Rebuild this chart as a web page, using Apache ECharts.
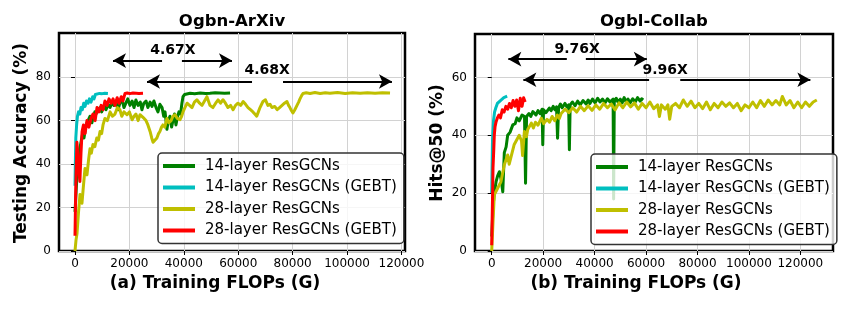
<!DOCTYPE html>
<html><head><meta charset="utf-8">
<script src="https://cdn.jsdelivr.net/npm/echarts@6/dist/echarts.min.js"></script>
<style>html,body{margin:0;padding:0;background:#fff}#c{width:847px;height:309px}</style>
</head><body><div id="c"></div><script>
// ---------- Data (x = Training FLOPs (G), y = metric) ----------
var seriesNames = ['14-layer ResGCNs', '14-layer ResGCNs (GEBT)', '28-layer ResGCNs', '28-layer ResGCNs (GEBT)'];
var seriesColors = ['#008000', '#00bfbf', '#bfbf00', '#ff0000'];

// (a) Ogbn-ArXiv, Testing Accuracy (%)
var arxivResGCN14 = [[0,18],[740,35],[1470,45],[2200,50],[2940,55],[3300,52],[4040,58],[4800,60],[5500,62],[6200,59],[6600,61],[7300,64],[7700,63],[8400,65],[9200,66],[9800,64],[10300,65.5],[10900,67],[11400,65],[12200,67.5],[12900,66],[13500,68],[14300,67],[15000,69],[15800,65],[16500,68],[17300,69.5],[18000,66],[18700,68],[19400,70],[20200,67],[21000,69],[21700,66],[22400,69.5],[23200,67],[24000,68.5],[24600,65],[25300,68],[26100,69],[26800,66],[27600,68.5],[28300,66.5],[29000,69],[29800,66],[30500,64],[31200,67.5],[32000,66],[32600,62],[33100,64],[33800,56],[34300,60],[34900,62],[35500,57],[36000,60],[36600,63],[37100,58],[37700,62],[38200,64],[38800,63],[39300,68],[39700,71],[40300,72],[40800,72.5],[42300,72.6],[44000,72.4],[46000,72.7],[48000,72.5],[49600,72.6],[51500,72.8],[53300,72.7],[55000,72.6],[57000,72.7]];
var arxivGEBT14 = [[0,30],[150,42],[300,52],[600,58],[900,62],[1300,64],[1800,63],[2200,66],[2700,65],[3200,68],[3700,66.5],[4200,69],[4800,68],[5300,70],[5900,68.5],[6500,71],[7000,70],[7500,72],[8200,72.3],[9000,72.5],[10000,72.4],[11000,72.6],[12100,72.5]];
var arxivResGCN28 = [[0,0],[370,5],[740,8],[1300,18],[1840,26],[2570,22],[3100,30],[3680,38],[4410,35],[5000,42],[5500,47],[6000,45],[6600,49],[7300,48],[8000,52],[8600,51],[9200,55],[9800,54],[10300,58],[11000,61],[11900,60],[12900,64],[13800,62],[14700,63],[15600,66],[16500,65],[17200,62],[18000,64],[19100,62.7],[20000,64],[21000,60.4],[21700,62],[22400,63],[23200,60],[23900,62.7],[24600,63.5],[25400,61],[26100,60],[26800,58],[27600,55],[28200,52],[28700,50],[29400,49.6],[30100,52],[30700,54],[31200,55],[31800,57],[32300,58],[33000,57],[33800,61],[34500,59],[35300,60],[36000,62],[36800,62.7],[37600,61],[38600,60.4],[39200,62],[39700,64],[40400,66],[41200,68],[42100,67],[43000,66],[43900,68.5],[44800,69.6],[45800,68],[46700,67],[47600,69],[48500,71],[49600,67],[50700,66],[51700,68],[52600,69.5],[53500,68],[54400,69.6],[55300,68],[56200,66],[57200,67],[58100,65],[59000,67],[59900,68],[60900,67],[61800,68.8],[62700,67.5],[63600,66],[64500,65],[65400,64],[66100,63],[66800,62],[67400,64],[68000,66],[68600,67.5],[69100,68.8],[70000,69.6],[70900,67],[71700,67.5],[72400,66],[73400,66.5],[74300,65],[75200,66],[76100,67],[77000,68],[77900,68.8],[78500,67],[79000,66],[79600,64.5],[80100,63.5],[80800,65],[81600,67],[82200,68.5],[82700,70],[83300,71.5],[83800,72.5],[85000,72.8],[86400,72.5],[88200,72.9],[90100,72.5],[92000,72.8],[93700,72.6],[96500,72.9],[99300,72.5],[102000,72.8],[104800,72.6],[107500,72.8],[110300,72.6],[113000,72.8],[115800,72.7]];
var arxivGEBT28 = [[0,7],[300,30],[700,50],[1000,45],[1300,38],[1800,32],[2200,45],[2600,55],[3100,58],[3700,54],[4400,60],[5100,57],[5900,61],[6600,63],[7400,60],[8100,66],[8800,64],[9600,67],[10300,65],[11000,69],[11800,67],[12500,70],[13300,68],[14000,70],[14700,67],[15500,70.5],[16200,68],[17000,71],[17600,69],[18400,72.5],[19200,72.7],[20200,72.4],[21300,72.7],[22500,72.6],[23500,72.5],[25000,72.6]];

// (b) Ogbl-Collab, Hits@50 (%)
var collabResGCN14 = [[0,5],[500,15],[1000,20],[1700,24],[2300,26],[3000,27.4],[3600,25],[4300,20.5],[4900,34],[5600,36],[6200,40],[7100,41],[8200,43.6],[9100,44],[9800,46],[10700,45],[11800,47],[12750,46.5],[13150,23.4],[13550,46.5],[14500,47.5],[15200,46.5],[16000,48.2],[17200,47],[18000,48.5],[18800,47.5],[19600,49],[19850,36.7],[20150,48.8],[21100,47.8],[22400,49.4],[23100,48.5],[23900,50],[24600,48.8],[25200,49.8],[25600,39],[26000,49.5],[26700,50.8],[27400,49.5],[28500,51],[29200,49.8],[29900,50.5],[30200,35],[30500,50.5],[31400,51.5],[32400,50.2],[33400,51.8],[34400,50.5],[35500,52],[36700,50.8],[37500,52.2],[38200,51],[39200,52.5],[40200,51.2],[41200,52.8],[42100,51.5],[43100,52.5],[44100,51.2],[45000,52.6],[46000,51.5],[47200,52.5],[47400,18],[47650,51.5],[48400,52.8],[49100,51.5],[50000,52.5],[50700,51.2],[51500,53],[52300,51.5],[53000,52.5],[53800,51.2],[54800,52.6],[55800,51.5],[56700,53],[57700,51.8],[58300,52.6],[58900,52.2]];
var collabGEBT14 = [[0,20],[300,38],[700,45],[1100,48],[1600,49.5],[2200,51],[2800,50.5],[3400,52],[4000,51.5],[4700,53],[5400,52.5],[6000,53.5]];
var collabResGCN28 = [[0,0],[500,10],[1000,19.4],[2300,21.7],[3600,24],[4900,29.8],[6200,33.2],[6800,30],[8700,36.7],[10700,40],[11600,38],[12000,33],[12700,41.3],[13500,39.5],[14000,42],[15400,44.2],[16200,42.5],[17000,44.5],[18000,43.5],[19300,45.9],[20200,44],[21500,45.5],[22500,44.5],[23500,46.5],[24500,45],[25500,47],[26300,45.8],[27000,47.5],[28500,49],[30000,47.8],[31500,49.5],[33000,48],[34500,50],[36000,48.5],[37500,50.2],[39000,48.6],[40500,50.5],[42000,49],[43500,51],[45000,49.5],[46500,50.8],[48000,48.8],[49500,51.2],[51000,49.5],[52500,51.5],[54000,49.8],[55500,51.2],[57000,49],[58500,51],[60000,49.5],[61500,51.5],[63000,49.2],[64500,50.5],[65200,46.5],[66000,50.5],[67500,49],[68500,50.5],[69200,45.5],[70000,50],[71500,51],[73000,49.5],[74500,52.2],[76000,50],[77500,51.8],[79000,49.5],[80500,51],[82000,49.2],[83500,51.5],[85000,48.8],[86500,51],[88000,49.5],[89500,51.5],[91000,50],[92500,51.2],[94000,49.5],[95500,51],[97000,48.5],[98500,50.5],[100000,49.5],[101500,51.5],[103000,49.5],[104500,52],[106000,50],[107500,52.2],[109000,50.5],[110500,52],[112000,50.5],[113000,53.4],[114500,50.5],[116000,52],[117500,49.5],[119000,51.5],[120500,49.5],[122000,51.5],[123500,50],[125000,51.5],[126400,52.2]];
var collabGEBT28 = [[0,2],[250,15],[500,28.7],[800,35],[1000,40],[1300,43],[1700,44.7],[2200,46],[2800,47],[3400,46],[4100,48.8],[4800,48],[5500,50],[6200,49],[6900,51],[7600,49.5],[8300,52],[9000,50],[9700,52.2],[10400,48.5],[11100,52.8],[11800,50],[12400,53],[13000,51.5]];

// Tick values
var arxivXTicks = [0, 20000, 40000, 60000, 80000, 100000, 120000];
var arxivYTicks = [0, 20, 40, 60, 80];
var collabXTicks = [0, 20000, 40000, 60000, 80000, 100000, 120000];
var collabYTicks = [0, 20, 40, 60];

// Speed-up annotations: [y, xStart, gapStart, gapEnd, xEnd], label [x, y, text]
var arxivArrows = [[87.6, 13970, 32000, 39300, 57700], [78, 26470, 65070, 76460, 116500]];
var arxivArrowLabels = [[36000, 92.2, '4.67X'], [70600, 83, '4.68X']];
var collabArrows = [[66.3, 6460, 29200, 36600, 60300], [59.2, 12300, 61200, 73300, 123900]];
var collabArrowLabels = [[33200, 69.6, '9.76X'], [67400, 62.6, '9.96X']];

// ---------- Chart ----------
var FONT = 'DejaVu Sans';
var chart = echarts.init(document.getElementById('c'), null, {renderer: 'canvas'});
function plain(v) { return String(v); }

function xAxisCfg(idx, min, max, ticks) {
  return {
    type: 'value', gridIndex: idx, min: min, max: max,
    axisLine: {show: false},
    axisTick: {show: true, inside: false, length: 4, lineStyle: {color: '#000', width: 1}, customValues: ticks},
    axisLabel: {fontFamily: FONT, fontSize: 12, color: '#000', margin: 7, customValues: ticks, formatter: plain},
    splitLine: {show: true, lineStyle: {color: '#d2d2d2', width: 1}}
  };
}
function yAxisCfg(idx, min, max, ticks) {
  return {
    type: 'value', gridIndex: idx, min: min, max: max,
    axisLine: {show: false},
    axisTick: {show: true, inside: false, length: 4, lineStyle: {color: '#000', width: 1}, customValues: ticks},
    axisLabel: {fontFamily: FONT, fontSize: 12, color: '#000', margin: 8, customValues: ticks, formatter: plain},
    splitLine: {show: true, lineStyle: {color: '#d2d2d2', width: 1}}
  };
}

var dataSets = [[arxivResGCN14, arxivGEBT14, arxivResGCN28, arxivGEBT28],
                [collabResGCN14, collabGEBT14, collabResGCN28, collabGEBT28]];
var series = [];
for (var g = 0; g < 2; g++) {
  for (var s = 0; s < 4; s++) {
    series.push({
      type: 'line', name: seriesNames[s], xAxisIndex: g, yAxisIndex: g,
      data: dataSets[g][s], symbol: 'none', showSymbol: false,
      lineStyle: {color: seriesColors[s], width: 3, join: 'round'},
      itemStyle: {color: seriesColors[s]},
      z: 2, animation: false, silent: true
    });
  }
}

function arrowSeries(g, arrows, labels) {
  var lines = [];
  arrows.forEach(function (a) {
    lines.push([{coord: [a[1], a[0]], symbol: 'arrow'}, {coord: [a[2], a[0]], symbol: 'none'}]);
    lines.push([{coord: [a[3], a[0]], symbol: 'none'}, {coord: [a[4], a[0]], symbol: 'arrow'}]);
  });
  return {
    type: 'line', name: 'arrows' + g, xAxisIndex: g, yAxisIndex: g, data: [], silent: true,
    animation: false, z: 5,
    markLine: {
      silent: true, animation: false, symbolSize: [11, 13],
      lineStyle: {color: '#000', width: 2, type: 'solid'},
      label: {show: false}, emphasis: {disabled: true},
      data: lines
    },
    markPoint: {
      silent: true, animation: false, symbol: 'rect', symbolSize: 1,
      itemStyle: {color: 'rgba(0,0,0,0)'},
      label: {show: true, position: 'inside', formatter: '{b}', fontFamily: FONT, fontSize: 14, fontWeight: 'bold', color: '#000'},
      data: labels.map(function (l) { return {name: l[2], coord: [l[0], l[1]]}; })
    }
  };
}
series.push(arrowSeries(0, arxivArrows, arxivArrowLabels));
series.push(arrowSeries(1, collabArrows, collabArrowLabels));

function legendCfg(left, top) {
  return {
    orient: 'vertical', left: left, top: top, data: seriesNames.slice(),
    icon: 'rect', itemWidth: 32, itemHeight: 4, itemGap: 5.5,
    padding: [5, 7, 5, 5],
    backgroundColor: 'rgba(255,255,255,0.8)', borderColor: '#333', borderWidth: 1.5, borderRadius: 4,
    selectedMode: false,
    textStyle: {fontFamily: FONT, fontSize: 15, color: '#000', lineHeight: 16, padding: [0, 0, 0, 5]},
    z: 10
  };
}

function txt(x, y, text, size, rot) {
  return {type: 'text', x: x, y: y, rotation: rot || 0, silent: true,
    style: {text: text, fontFamily: FONT, fontSize: size, fontWeight: 'bold', fill: '#000', align: 'center', verticalAlign: 'middle'}};
}

chart.setOption({
  animation: false,
  backgroundColor: '#fff',
  grid: [
    {left: 59, top: 33, width: 346, height: 218, show: true, borderColor: '#000', borderWidth: 2.5, backgroundColor: 'transparent'},
    {left: 475, top: 34, width: 358, height: 217, show: true, borderColor: '#000', borderWidth: 2.5, backgroundColor: 'transparent'}
  ],
  xAxis: [xAxisCfg(0, -5880, 121300, arxivXTicks), xAxisCfg(1, -6500, 132700, collabXTicks)],
  yAxis: [yAxisCfg(0, 0, 100.3, arxivYTicks), yAxisCfg(1, 0, 75, collabYTicks)],
  legend: [legendCfg(158, 153), legendCfg(591, 154)],
  series: series,
  graphic: [
    txt(232, 22, 'Ogbn-ArXiv', 16.5),
    txt(654, 22, 'Ogbl-Collab', 16.5),
    txt(22, 143, 'Testing Accuracy (%)', 17, Math.PI / 2),
    txt(438, 143, 'Hits@50 (%)', 17, Math.PI / 2),
    txt(215, 284, '(a) Training FLOPs (G)', 17),
    txt(636, 284, '(b) Training FLOPs (G)', 17)
  ]
});
</script></body></html>
